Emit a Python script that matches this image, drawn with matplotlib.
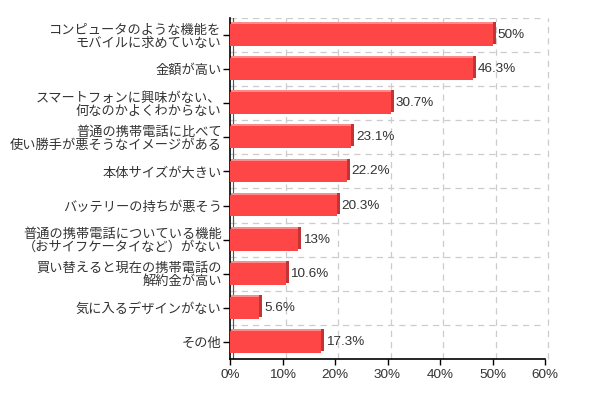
import matplotlib
matplotlib.use("Agg")
import matplotlib.pyplot as plt
from matplotlib.transforms import ScaledTranslation

plt.rcParams["font.family"] = ["Noto Sans CJK JP", "DejaVu Sans"]

categories = [
    "コンピュータのような機能を\nモバイルに求めていない",
    "金額が高い",
    "スマートフォンに興味がない、\n何なのかよくわからない",
    "普通の携帯電話に比べて\n使い勝手が悪そうなイメージがある",
    "本体サイズが大きい",
    "バッテリーの持ちが悪そう",
    "普通の携帯電話についている機能\n（おサイフケータイなど）がない",
    "買い替えると現在の携帯電話の\n解約金が高い",
    "気に入るデザインがない",
    "その他",
]
values = [50, 46.3, 30.7, 23.1, 22.2, 20.3, 13, 10.6, 5.6, 17.3]
value_labels = ["50%", "46.3%", "30.7%", "23.1%", "22.2%", "20.3%", "13%", "10.6%", "5.6%", "17.3%"]
xticks = [0, 10, 20, 30, 40, 50, 60]

W, H = 598, 398
fig = plt.figure(figsize=(W / 100, H / 100), dpi=100)
ax = fig.add_axes([230 / W, 1 - 359 / H, (545 - 230) / W, (359 - 18) / H])

ypos = list(range(len(categories)))
d = 3 / 100  # depth of the 3d effect, inches
off_side = ScaledTranslation(d, 2 / 100, fig.dpi_scale_trans)
off_top = ScaledTranslation(0, 2 / 100, fig.dpi_scale_trans)
off_grid = ScaledTranslation(d, 0, fig.dpi_scale_trans)

# back wall grid (shifted a bit like the reference)
xtr = ax.get_xaxis_transform() + off_grid
for t in xticks:
    ax.plot([t, t], [0, 1], color="#cccccc", lw=0.9, ls=(0, (5, 4)), zorder=0,
            transform=xtr, clip_on=False)
for k in range(len(categories)):
    ax.axhline(k - 0.5, color="#cccccc", lw=0.9, ls=(0, (5, 4)), zorder=0)
ax.plot([0, 0], [0, 1], color="#555555", lw=0.8, zorder=1, transform=xtr)

bh = 0.64
ax.barh(ypos, values, height=bh, color="#c33535", zorder=2,
        transform=ax.transData + off_side)
ax.barh(ypos, values, height=bh, color="#ff8a8a", zorder=2.5,
        transform=ax.transData + off_top)
ax.barh(ypos, values, height=bh, color="#ff4646", zorder=3)

for y, v, lab in zip(ypos, values, value_labels):
    ax.annotate(lab, (v, y), xytext=(3.5, 0), textcoords="offset points",
                va="center", ha="left", fontsize=9.7, color="#333333", zorder=4,
                family=["Liberation Sans", "DejaVu Sans"])

ax.set_xlim(0, 60)
ax.set_ylim(len(categories) - 0.5, -0.5)
ax.set_xticks(xticks)
ax.set_xticklabels([f"{t}%" for t in xticks], family=["Liberation Sans", "DejaVu Sans"])
ax.set_yticks(ypos)
ax.set_yticklabels(categories, linespacing=1.0)

for s in ["top", "right"]:
    ax.spines[s].set_visible(False)
for s in ["left", "bottom"]:
    ax.spines[s].set_color("#000000")
    ax.spines[s].set_linewidth(1.2)
ax.tick_params(axis="y", length=5, width=1, pad=1, labelsize=9.5)
ax.tick_params(axis="x", length=4, width=1, pad=3, labelsize=9.7)
for lab in ax.get_yticklabels() + ax.get_xticklabels():
    lab.set_color("#333333")

fig.savefig("out.png", dpi=100)
